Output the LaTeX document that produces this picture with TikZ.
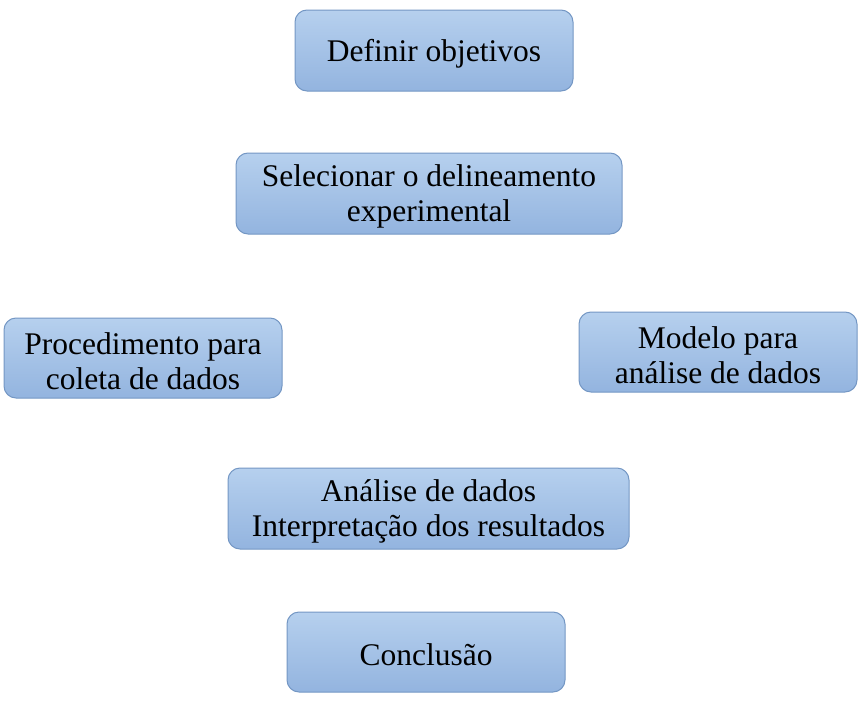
\documentclass[tikz,border=0pt]{standalone}
\usepackage{fontspec}
\setmainfont{Liberation Serif}
\definecolor{boxtop}{HTML}{B6D0EE}
\definecolor{boxbot}{HTML}{93B4DF}
\definecolor{boxline}{HTML}{7497C4}
\tikzset{
  stepbox/.style={rounded corners=12pt, draw=boxline, line width=1pt,
    top color=boxtop, bottom color=boxbot},
  boxtext/.style={align=center, font=\fontsize{31.5}{35}\selectfont, text=black, yshift=-3pt}
}
\begin{document}
\begin{tikzpicture}[x=1pt,y=-1pt]
\useasboundingbox (0,0) rectangle (868,712);
% boxes
\path[stepbox] (295,10) rectangle (573,91);
\node[boxtext] (b1) at (434,50.5) {Definir objetivos};
\path[stepbox] (236,153) rectangle (622,234);
\node[boxtext] (b2) at (429,193.5) {Selecionar o delineamento\\experimental};
\path[stepbox] (4,318) rectangle (282,398);
\node[boxtext] (b3) at (143,358) {Procedimento para\\coleta de dados};
\path[stepbox] (579,312) rectangle (857,392);
\node[boxtext] (b4) at (718,352) {Modelo para\\análise de dados};
\path[stepbox] (228,468) rectangle (629,549);
\node[boxtext] (b5) at (428.5,508.5) {Análise de dados\\Interpretação dos resultados};
\path[stepbox] (287,612) rectangle (565,692);
\node[boxtext] (b6) at (426,652) {Conclusão};
\end{tikzpicture}
\end{document}
